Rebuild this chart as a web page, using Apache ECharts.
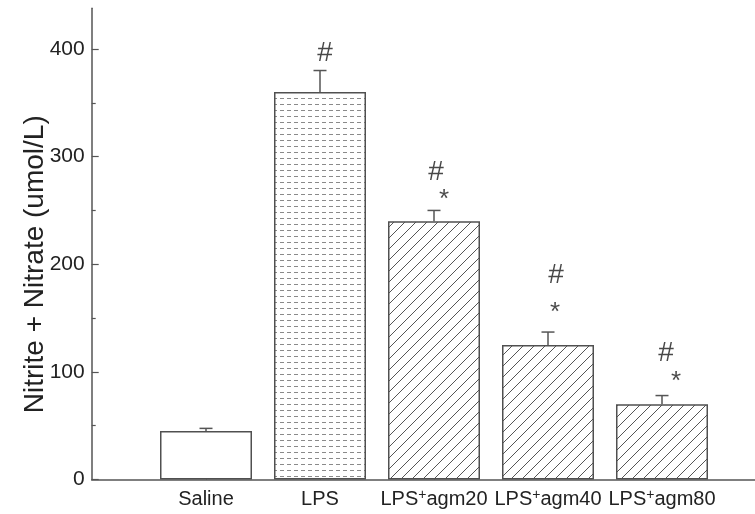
<!DOCTYPE html>
<html><head><meta charset="utf-8">
<script src="https://cdn.jsdelivr.net/npm/echarts@6/dist/echarts.min.js"></script>
<style>html,body{margin:0;padding:0;background:#fff}#c{width:755px;height:514px}</style>
</head><body><div id="c"></div>
<script>
const categories = ['Saline', 'LPS', 'LPS+agm20', 'LPS+agm40', 'LPS+agm80'];
const means = [45, 360, 240, 125, 70];
const errors = [2.5, 20, 10, 12, 8];
const hashY = [null, 396, 285, 190, 117];
const starY = [null, null, 260, 155, 91];
const yTicks = [0, 100, 200, 300, 400];

const hashDx = [0, 5, 2, 8, 4];
const starDx = [0, 0, 10, 7, 14];

function makeDashPattern() {
  const c = document.createElement('canvas');
  c.width = 7; c.height = 6;
  const g = c.getContext('2d');
  g.fillStyle = '#fff'; g.fillRect(0, 0, 7, 6);
  g.strokeStyle = '#8a8a8a'; g.lineWidth = 1;
  g.beginPath(); g.moveTo(0, 2.5); g.lineTo(4, 2.5); g.stroke();
  return c;
}
function makeHatchPattern() {
  const s = 11;
  const c = document.createElement('canvas');
  c.width = s; c.height = s;
  const g = c.getContext('2d');
  g.fillStyle = '#fff'; g.fillRect(0, 0, s, s);
  g.strokeStyle = '#555'; g.lineWidth = 1;
  g.beginPath();
  g.moveTo(-1, s + 1); g.lineTo(s + 1, -1);
  g.moveTo(-1, 1); g.lineTo(1, -1);
  g.moveTo(s - 1, s + 1); g.lineTo(s + 1, s - 1);
  g.stroke();
  return c;
}
const dashPat = { image: makeDashPattern(), repeat: 'repeat' };
const hatchPat = { image: makeHatchPattern(), repeat: 'repeat' };
const fills = ['#ffffff', dashPat, hatchPat, hatchPat, hatchPat];

const axisColor = '#555';
const textColor = '#222';
const font = 'Liberation Sans, Arial, sans-serif';

const chart = echarts.init(document.getElementById('c'), null, { renderer: 'canvas' });

const gridBLeft = 149, gridBRight = 36, gridBottom = 34.5;
const axisX = 91.7;

chart.setOption({
  animation: false,
  backgroundColor: '#fff',
  grid: [
    { left: axisX, right: 0, top: 8.3, bottom: gridBottom },
    { left: gridBLeft, right: gridBRight, top: 49, bottom: gridBottom }
  ],
  xAxis: [
    { gridIndex: 0, type: 'value', min: 0, max: 1,
      axisLine: { show: true, lineStyle: { color: axisColor, width: 1.5 } },
      axisTick: { show: false }, axisLabel: { show: false }, splitLine: { show: false } },
    { gridIndex: 1, type: 'category', data: categories,
      axisLine: { show: false },
      axisTick: { show: true, inside: true, length: 6, alignWithLabel: true, lineStyle: { color: axisColor, width: 1 } },
      axisLabel: {
        interval: 0,
        margin: 9,
        formatter: function (v) {
          const i = v.indexOf('+');
          if (i < 0) return '{t|' + v + '}';
          return '{t|' + v.slice(0, i) + '}{s|+}{t|' + v.slice(i + 1) + '}';
        },
        rich: {
          t: { fontSize: 20, fontFamily: font, color: textColor, lineHeight: 22 },
          s: { fontSize: 14, fontFamily: font, color: textColor, lineHeight: 14, verticalAlign: 'top' }
        }
      },
      splitLine: { show: false } }
  ],
  yAxis: [
    { gridIndex: 0, type: 'value', min: 0, max: 1,
      axisLine: { show: true, lineStyle: { color: axisColor, width: 1.5 } },
      axisTick: { show: false }, axisLabel: { show: false }, splitLine: { show: false } },
    { gridIndex: 1, type: 'value', min: yTicks[0], max: yTicks[yTicks.length - 1],
      interval: yTicks[1] - yTicks[0], offset: gridBLeft - axisX,
      name: 'Nitrite + Nitrate (umol/L)', nameLocation: 'middle', nameGap: 42,
      nameMoveOverlap: false,
      nameTextStyle: { fontSize: 28, fontFamily: font, color: textColor },
      axisLine: { show: false },
      axisTick: { show: true, inside: true, length: 7, lineStyle: { color: axisColor, width: 1.2 } },
      minorTick: { show: true, splitNumber: 2, length: 4, lineStyle: { color: axisColor, width: 1.2 } },
      axisLabel: { fontSize: 21, fontFamily: font, color: textColor, margin: 7 },
      splitLine: { show: false } }
  ],
  series: [
    { type: 'bar', xAxisIndex: 1, yAxisIndex: 1, barWidth: 92, z: 3,
      data: means.map((m, i) => ({ value: m, itemStyle: { color: fills[i], borderColor: '#505050', borderWidth: 1.5 } })) },
    { type: 'custom', xAxisIndex: 1, yAxisIndex: 1, z: 4,
      data: means.map((m, i) => [i, m, errors[i]]),
      encode: { x: 0, y: 1 },
      renderItem: function (params, api) {
        const x = api.value(0), m = api.value(1), e = api.value(2);
        const p0 = api.coord([x, m]);
        const p1 = api.coord([x, m + e]);
        const hw = 6.5;
        const st = { stroke: '#555', lineWidth: 1.5 };
        return { type: 'group', children: [
          { type: 'line', shape: { x1: p0[0], y1: p0[1], x2: p1[0], y2: p1[1] }, style: st },
          { type: 'line', shape: { x1: p1[0] - hw, y1: p1[1], x2: p1[0] + hw, y2: p1[1] }, style: st }
        ] };
      } },
    { type: 'scatter', xAxisIndex: 1, yAxisIndex: 1, symbolSize: 1, z: 5,
      itemStyle: { color: 'rgba(0,0,0,0)' },
      data: hashY.map((y, i) => y == null ? null : { value: [i, y], label: { offset: [hashDx[i], 0] } }).filter(d => d),
      label: { show: true, position: 'inside', formatter: '#', fontSize: 28, fontFamily: font, color: '#1a1a1a' } },
    { type: 'scatter', xAxisIndex: 1, yAxisIndex: 1, symbolSize: 1, z: 5,
      itemStyle: { color: 'rgba(0,0,0,0)' },
      data: starY.map((y, i) => y == null ? null : { value: [i, y], label: { offset: [starDx[i], 0] } }).filter(d => d),
      label: { show: true, position: 'inside', formatter: '*', fontSize: 26, fontFamily: font, color: '#1a1a1a' } }
  ]
});
</script></body></html>
